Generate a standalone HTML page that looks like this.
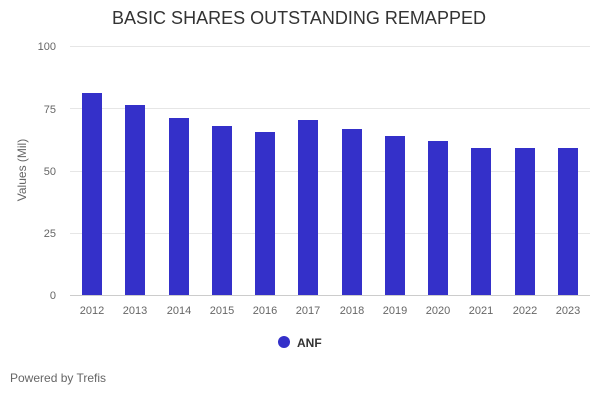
<!DOCTYPE html>
<html><head><style>
body{margin:0;background:#fff;width:600px;height:400px;overflow:hidden;font-family:"Liberation Sans",sans-serif}
</style></head><body>
<svg width="600" height="400" xmlns="http://www.w3.org/2000/svg" font-family="Liberation Sans, sans-serif">
<text x="299" y="24" text-anchor="middle" font-size="18" fill="#333" textLength="374" lengthAdjust="spacingAndGlyphs">BASIC SHARES OUTSTANDING REMAPPED</text>
<g stroke="#e6e6e6" stroke-width="1">
<line x1="70" x2="590" y1="46.5" y2="46.5"/>
<line x1="70" x2="590" y1="108.5" y2="108.5"/>
<line x1="70" x2="590" y1="171.5" y2="171.5"/>
<line x1="70" x2="590" y1="233.5" y2="233.5"/>
<line x1="70" x2="590" y1="295.5" y2="295.5" stroke="#ccc"/>
</g>
<g font-size="11" fill="#666" text-anchor="end">
<text x="56" y="50">100</text><text x="56" y="113">75</text><text x="56" y="175">50</text><text x="56" y="237">25</text><text x="56" y="299">0</text>
</g>
<text transform="translate(26,170) rotate(-90)" text-anchor="middle" font-size="12" fill="#666">Values (Mil)</text>
<g fill="#3430c9">
<rect x="82" y="93" width="20" height="202"/>
<rect x="125" y="105" width="20" height="190"/>
<rect x="169" y="118" width="20" height="177"/>
<rect x="212" y="126" width="20" height="169"/>
<rect x="255" y="132" width="20" height="163"/>
<rect x="298" y="120" width="20" height="175"/>
<rect x="342" y="129" width="20" height="166"/>
<rect x="385" y="136" width="20" height="159"/>
<rect x="428" y="141" width="20" height="154"/>
<rect x="471" y="148" width="20" height="147"/>
<rect x="515" y="148" width="20" height="147"/>
<rect x="558" y="148" width="20" height="147"/>
</g>
<g font-size="11" fill="#666" text-anchor="middle">
<text x="92" y="314">2012</text><text x="135" y="314">2013</text><text x="179" y="314">2014</text><text x="222" y="314">2015</text><text x="265" y="314">2016</text><text x="308" y="314">2017</text><text x="352" y="314">2018</text><text x="395" y="314">2019</text><text x="438" y="314">2020</text><text x="481" y="314">2021</text><text x="525" y="314">2022</text><text x="568" y="314">2023</text>
</g>
<circle cx="284" cy="342" r="6" fill="#3430c9"/>
<text x="297" y="347" font-size="12" font-weight="bold" fill="#333">ANF</text>
<text x="10" y="382" font-size="12" fill="#666">Powered by Trefis</text>
</svg>
</body></html>
